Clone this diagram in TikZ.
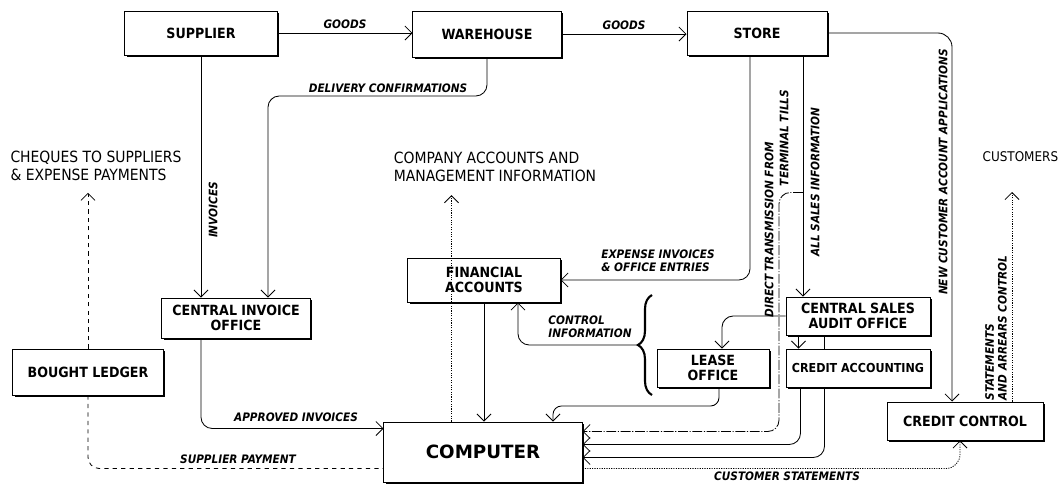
\documentclass[tikz,border=0pt]{standalone}
\usepackage{fontspec}
\setmainfont{DejaVu Sans Condensed}[
  BoldFont={DejaVu Sans Condensed Bold},
  ItalicFont={DejaVu Sans Condensed Oblique},
  BoldItalicFont={DejaVu Sans Condensed Bold Oblique}]
\newfontfamily\heavyfont{DejaVu Sans}[BoldFont={DejaVu Sans Bold}]
\usetikzlibrary{arrows.meta,calc,shadows,decorations.pathreplacing}

\tikzset{
  box/.style={draw, fill=white, line width=0.7pt, align=center, inner sep=2pt,
    drop shadow={shadow xshift=1.3pt, shadow yshift=-1.3pt, fill=black, opacity=1},
    font=\bfseries\fontsize{10}{11}\selectfont},
  lbl/.style={font=\bfseries\itshape\fontsize{8.3}{9}\selectfont, inner sep=1pt},
  note/.style={font=\fontsize{11}{12.5}\selectfont, align=left},
  dotline/.style={dash pattern=on 0.8pt off 0.9pt},
  tillline/.style={dash pattern=on 7pt off 1.2pt on 0.8pt off 1.2pt},
}

\begin{document}
\begin{tikzpicture}[x=0.025cm, y=-0.025cm, >={Straight Barb[length=5pt,width=10pt]}, line width=0.6pt]
    \useasboundingbox (0,0) rectangle (1062,483);

    % boxes
    \node[box, minimum width=3.8cm, minimum height=1.1cm] (supplier) at (201,33) {SUPPLIER};
    \node[box, minimum width=3.7cm, minimum height=1.15cm] (warehouse) at (487,34) {WAREHOUSE};
    \node[box, minimum width=3.5cm, minimum height=1.1cm] (store) at (757,33) {STORE};
    \node[box, minimum width=3.8cm, minimum height=1.1cm] (finance) at (484,280) {FINANCIAL\\ACCOUNTS};
    \node[box, minimum width=3.7cm, minimum height=1cm] (invoffice) at (236,318) {CENTRAL INVOICE\\OFFICE};
    \node[box, minimum width=3.75cm, minimum height=1.15cm] (ledger) at (88,372) {BOUGHT LEDGER};
    \node[box, minimum width=3.6cm, minimum height=0.95cm] (audit) at (858,316) {CENTRAL SALES\\AUDIT OFFICE};
    \node[box, minimum width=2.8cm, minimum height=0.95cm] (lease) at (713,368) {LEASE\\OFFICE};
    \node[box, minimum width=3.6cm, minimum height=0.95cm, font=\bfseries\fontsize{8.8}{10}\selectfont] (credacc) at (858,368) {CREDIT ACCOUNTING};
    \node[box, minimum width=3.9cm, minimum height=0.95cm] (credctl) at (965,421) {CREDIT CONTROL};
    \node[box, minimum width=4.95cm, minimum height=1.5cm,
          font=\heavyfont\bfseries\fontsize{13}{14}\selectfont] (computer) at (483,452) {COMPUTER};

    % outputs
    \node[note] (cheques) at (96,166) {CHEQUES TO SUPPLIERS\\\& EXPENSE PAYMENTS};
    \node[note] (company) at (495,167) {COMPANY ACCOUNTS AND\\MANAGEMENT INFORMATION};
    \node[note, anchor=east, inner sep=1pt, font=\fontsize{9.5}{11}\selectfont] (customers) at (1060,157) {CUSTOMERS};

    % goods
    \draw[->] (supplier.east) -- (supplier.east -| warehouse.west) node[lbl, midway, above=2pt] {GOODS};
    \draw[->] (warehouse.east) -- (warehouse.east -| store.west) node[lbl, midway, above=2pt] {GOODS};

    % invoices
    \draw[->] (supplier.south) -- (supplier.south |- invoffice.north);
    \node[lbl, rotate=90] at (213,210) {INVOICES};
    \coordinate (dcturn) at (268,96);
    \draw[->, rounded corners=8pt] (warehouse.south) |- (dcturn) -- (dcturn |- invoffice.north);
    \node[lbl] at (388,88) {DELIVERY CONFIRMATIONS};
    \coordinate (apin) at ($(computer.north west)+(0,7)$);
    \draw[->, rounded corners=8pt] (supplier.south |- invoffice.south) |- (apin);
    \node[lbl] at (296,417) {APPROVED INVOICES};

    % payments
    \coordinate (paid) at ($(computer.south west)+(0,-14)$);
    \draw[dashed, ->, shorten >=5pt] (ledger.north) -- (ledger.north |- cheques.south);
    \draw[dashed, rounded corners=8pt] (ledger.south) |- (paid);
    \node[lbl] at (238,459) {SUPPLIER PAYMENT};

    % financial accounts
    \draw[->] (finance.south) -- (finance.south |- computer.north);
    \coordinate (mgmt) at ($(computer.north west)+(68,0)$);
    \draw[dotline, ->, shorten >=6pt] (mgmt) -- (mgmt |- company.south);
    \coordinate (expout) at ($(store.south)+(-7,0)$);
    \draw[->, rounded corners=8pt] (expout) |- (finance.east);
    \node[lbl, align=left] at (658,261) {EXPENSE INVOICES\\\& OFFICE ENTRIES};

    % sales
    \coordinate (salesout) at ($(store.south)+(46,0)$);
    \draw[->] (salesout) -- (salesout |- audit.north);
    \node[lbl, rotate=90] at (815,182) {ALL SALES INFORMATION};
    \coordinate (tills) at ($(salesout)+(0,137)$);
    \coordinate (tillcol) at (779,0);
    \coordinate (in1) at ($(computer.north east)+(0,10)$);
    \draw[tillline, ->, rounded corners=8pt] (tills) -| (tillcol |- in1) -- (in1);
    \node[lbl, rotate=90] at (769,230) {DIRECT TRANSMISSION FROM};
    \node[lbl, rotate=90] at (784,138) {TERMINAL TILLS};

    % audit and credit accounting
    \draw[->, rounded corners=8pt] (audit.west) -| ($(lease.north)+(9,0)$);
    \draw[->] ($(audit.south west)+(13,0)$) -- ($(credacc.north west)+(13,0)$);
    \draw ($(audit.south west)+(39,0)$) -- ($(credacc.north west)+(39,0)$);
    \coordinate (in2) at ($(computer.north east)+(0,23)$);
    \coordinate (in3) at ($(computer.north east)+(0,36)$);
    \draw[->, rounded corners=8pt] ($(credacc.south west)+(15,0)$) |- (in2);
    \draw[->, rounded corners=8pt] ($(credacc.south west)+(39,0)$) |- (in3);
    \coordinate (leaseturn) at (553,406);
    \draw[->, rounded corners=6pt] ($(lease.south)+(6,0)$) |- (leaseturn) -- (leaseturn |- computer.north);

    % control information
    \draw[decorate, decoration={brace, amplitude=10pt}, line width=1.5pt] (652,395) -- (652,295);
    \coordinate (bracetip) at (637,345);
    \draw[->, rounded corners=8pt] (bracetip) -| ($(finance.south)+(34,0)$);
    \node[lbl, align=left] at (590,327) {CONTROL\\INFORMATION};

    % credit control
    \draw[->, rounded corners=10pt] (store.east) -| ($(credctl.north)+(-13,0)$);
    \node[lbl, rotate=90] at (943,172) {NEW CUSTOMER ACCOUNT APPLICATIONS};
    \coordinate (arrears) at ($(credctl.north)+(47,0)$);
    \draw[dotline, ->, shorten >=20pt] (arrears) -- (arrears |- customers.south);
    \node[lbl, rotate=90, align=left] at (996,328) {STATEMENTS\\AND ARREARS CONTROL};
    \coordinate (in4) at ($(computer.north east)+(0,47)$);
    \draw[dotline, ->, rounded corners=10pt] (in4) -| ($(credctl.south)+(-5,0)$);
    \node[lbl] at (787,476) {CUSTOMER STATEMENTS};
\end{tikzpicture}
\end{document}
